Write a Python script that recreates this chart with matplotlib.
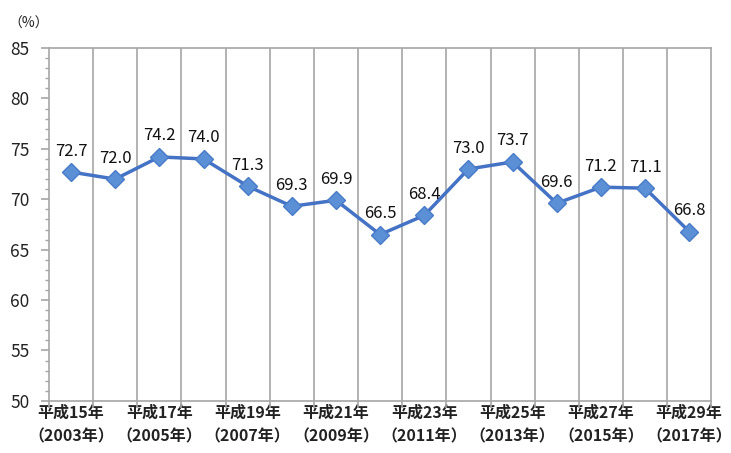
import matplotlib.pyplot as plt
from matplotlib.ticker import MultipleLocator, FixedLocator

plt.rcParams['font.family'] = ['Noto Sans CJK JP', 'DejaVu Sans']

years_jp = ["平成15年", "平成16年", "平成17年", "平成18年", "平成19年", "平成20年", "平成21年",
            "平成22年", "平成23年", "平成24年", "平成25年", "平成26年", "平成27年", "平成28年", "平成29年"]
years_ad = [2003, 2004, 2005, 2006, 2007, 2008, 2009, 2010, 2011, 2012, 2013, 2014, 2015, 2016, 2017]
rates = [72.7, 72.0, 74.2, 74.0, 71.3, 69.3, 69.9, 66.5, 68.4, 73.0, 73.7, 69.6, 71.2, 71.1, 66.8]

fig = plt.figure(figsize=(7.31, 4.53), dpi=100)
ax = fig.add_axes([0.067, 0.115, 0.906, 0.779])

x = list(range(len(rates)))
ax.plot(x, rates, color="#4472C4", lw=2.5, marker="D", markersize=9,
        markerfacecolor="#5B8FD6", markeredgecolor="#4A7CC8", zorder=3)

for xi, v in zip(x, rates):
    ax.annotate(f"{v:.1f}", (xi, v), xytext=(0, 9), textcoords="offset points",
                ha="center", va="bottom", fontsize=12, color="#111111")

ax.set_xlim(-0.5, len(rates) - 0.5)
ax.set_ylim(50, 85)

# vertical grid at category boundaries
bounds = [i + 0.5 for i in range(len(rates) - 1)]
for b in bounds:
    ax.axvline(b, color="#A6A6A6", lw=1.2, zorder=1)

ax.xaxis.set_major_locator(FixedLocator(x[::2]))
ax.set_xticklabels([f"{j}\n（{a}年）" for j, a in zip(years_jp[::2], years_ad[::2])],
                   fontsize=11.5, fontweight="bold", color="#222222", linespacing=1.55)
ax.xaxis.set_minor_locator(FixedLocator([i - 0.5 for i in range(len(rates) + 1)]))
ax.tick_params(axis="x", which="major", length=0, pad=3)
ax.tick_params(axis="x", which="minor", length=5, color="#A6A6A6", width=1.2)

ax.yaxis.set_major_locator(MultipleLocator(5))
ax.yaxis.set_minor_locator(MultipleLocator(1))
ax.tick_params(axis="y", which="major", length=6, color="#A6A6A6", width=1.2,
               labelsize=12.5, labelcolor="#222222", pad=8)
ax.tick_params(axis="y", which="minor", length=3, color="#A6A6A6", width=1)

for s in ax.spines.values():
    s.set_color("#A6A6A6")
    s.set_linewidth(1.2)

fig.text(0.012, 0.948, "（%）", fontsize=10, color="#222222", va="center")

fig.savefig("out.png", dpi=100)
